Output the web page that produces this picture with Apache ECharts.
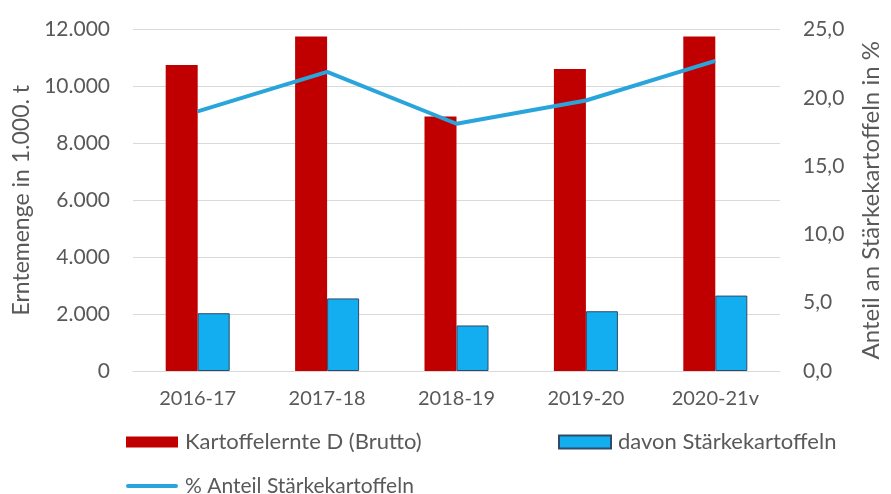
<!DOCTYPE html>
<html>
<head>
<meta charset="utf-8">
<script src="https://cdn.jsdelivr.net/npm/echarts@6/dist/echarts.min.js"></script>
<style>html,body{margin:0;padding:0;background:#fff}#c{width:891px;height:494px}</style>
</head>
<body>
<div id="c"></div>
<script>
const categories = ['2016-17', '2017-18', '2018-19', '2019-20', '2020-21v'];
const ernteBrutto = [10750, 11750, 8940, 10610, 11750];
const staerke = [2030, 2550, 1600, 2100, 2650];
const anteilProzent = [19.0, 21.9, 18.1, 19.8, 22.7];
const leftTicks = [0, 2000, 4000, 6000, 8000, 10000, 12000];
const rightTicks = [0, 5, 10, 15, 20, 25];

const FONT = 'Lato';
const GREY = '#595959';
const legText = {fontFamily: FONT, fontSize: 22, color: GREY, lineHeight: 22, padding: [0, 0, 0, 2]};
const chart = echarts.init(document.getElementById('c'), null, {renderer: 'canvas'});
chart.setOption({
  animation: false,
  textStyle: {fontFamily: FONT},
  grid: {left: 133, right: 101, top: 29.5, bottom: 123, containLabel: false},
  legend: [
    {data: [{name: 'Kartoffelernte D (Brutto)', icon: 'rect'}], left: 121, top: 426, itemWidth: 52, itemHeight: 11,
     textStyle: legText},
    {data: [{name: 'davon Stärkekartoffeln', icon: 'rect'}], left: 553, top: 426, itemWidth: 52, itemHeight: 13,
     textStyle: legText},
    {data: [{name: '% Anteil Stärkekartoffeln', icon: 'path://M2,0 H50 A2,2 0 0 1 50,4 H2 A2,2 0 0 1 2,0 Z'}],
     left: 121, top: 470, itemWidth: 52, itemHeight: 4,
     textStyle: Object.assign({}, legText, {fontSize: 21})}
  ],
  xAxis: {
    type: 'category', data: categories,
    axisLine: {lineStyle: {color: '#D9D9D9', width: 1}},
    axisTick: {show: false},
    axisLabel: {color: GREY, fontSize: 20, fontFamily: FONT, margin: 18}
  },
  yAxis: [
    {
      type: 'value', min: 0, max: 12000, interval: 2000,
      name: 'Erntemenge in 1.000. t', nameLocation: 'middle', nameGap: 99, nameRotate: 90,
      nameTextStyle: {color: GREY, fontSize: 23, fontFamily: FONT},
      axisLine: {show: false}, axisTick: {show: false},
      splitLine: {lineStyle: {color: '#D9D9D9', width: 1}},
      axisLabel: {color: GREY, fontSize: 21, fontFamily: FONT, margin: 23,
        formatter: v => leftTicks.includes(v) ? v.toLocaleString('de-DE') : ''}
    },
    {
      type: 'value', min: 0, max: 25, interval: 5, position: 'right',
      name: 'Anteil an Stärkekartoffeln in %', nameLocation: 'middle', nameGap: 79, nameRotate: 90,
      nameTextStyle: {color: GREY, fontSize: 24, fontFamily: FONT},
      axisLine: {show: false}, axisTick: {show: false}, splitLine: {show: false},
      axisLabel: {color: GREY, fontSize: 21, fontFamily: FONT, margin: 23,
        formatter: v => rightTicks.includes(v) ? v.toFixed(1).replace('.', ',') : ''}
    }
  ],
  series: [
    {name: 'Kartoffelernte D (Brutto)', type: 'bar', data: ernteBrutto, barWidth: 32, barGap: '0%',
     itemStyle: {color: '#C00000'}},
    {name: 'davon Stärkekartoffeln', type: 'bar', data: staerke, barWidth: 32,
     itemStyle: {color: '#12AEEF', borderColor: '#2F4A6B', borderWidth: 1}},
    {name: '% Anteil Stärkekartoffeln', type: 'line', yAxisIndex: 1, data: anteilProzent,
     symbol: 'none', lineStyle: {color: '#2AA5DC', width: 4}, itemStyle: {color: '#2AA5DC'}}
  ]
});
</script>
</body>
</html>
